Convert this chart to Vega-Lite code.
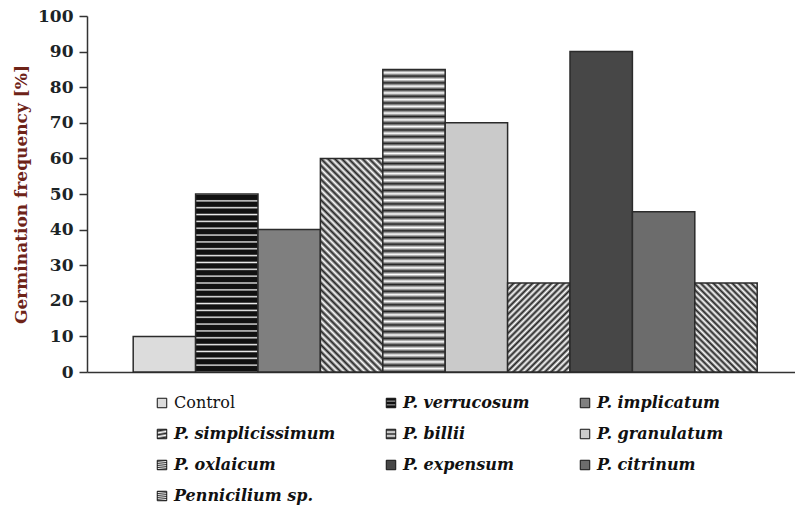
{
  "$schema": "https://vega.github.io/schema/vega-lite/v6.json",
  "width": 708,
  "height": 356,
  "autosize": {"type": "none"},
  "padding": {"left": 87, "top": 16, "right": 0, "bottom": 134},
  "background": "white",
  "config": {"view": {"stroke": null}, "font": "DejaVu Serif"},
  "data": {
    "values": [
      {"fungus": "Control", "frequency": 10},
      {"fungus": "P. verrucosum", "frequency": 50},
      {"fungus": "P. implicatum", "frequency": 40},
      {"fungus": "P. simplicissimum", "frequency": 60},
      {"fungus": "P. billii", "frequency": 85},
      {"fungus": "P. granulatum", "frequency": 70},
      {"fungus": "P. oxlaicum", "frequency": 25},
      {"fungus": "P. expensum", "frequency": 90},
      {"fungus": "P. citrinum", "frequency": 45},
      {"fungus": "Pennicilium sp.", "frequency": 25}
    ]
  },
  "mark": {"type": "bar", "stroke": "#2b2b2b", "strokeWidth": 1.5},
  "encoding": {
    "x": {
      "field": "fungus",
      "type": "nominal",
      "sort": ["Control", "P. verrucosum", "P. implicatum", "P. simplicissimum", "P. billii", "P. granulatum", "P. oxlaicum", "P. expensum", "P. citrinum", "Pennicilium sp."],
      "scale": {"paddingInner": 0, "paddingOuter": 0.673, "align": 0.55},
      "axis": {"labels": false, "ticks": false, "title": null, "domainColor": "#333333", "domainWidth": 1.5}
    },
    "y": {
      "field": "frequency",
      "type": "quantitative",
      "scale": {"domain": [0, 100], "nice": false},
      "axis": {
        "values": [0, 10, 20, 30, 40, 50, 60, 70, 80, 90, 100],
        "title": "Germination frequency [%]",
        "titleFont": "DejaVu Serif",
        "titleFontSize": 17,
        "titleFontWeight": "bold",
        "titleColor": "#6e2318",
        "titlePadding": 7,
        "labelFont": "DejaVu Serif",
        "labelFontSize": 17,
        "labelFontWeight": "bold",
        "labelColor": "#1c2426",
        "labelPadding": 6,
        "tickSize": 8,
        "tickColor": "#333333",
        "tickWidth": 1.5,
        "domainColor": "#333333",
        "domainWidth": 1.5,
        "grid": false
      }
    },
    "fill": {
      "field": "fungus",
      "type": "nominal",
      "scale": {
        "domain": ["Control", "P. verrucosum", "P. implicatum", "P. simplicissimum", "P. billii", "P. granulatum", "P. oxlaicum", "P. expensum", "P. citrinum", "Pennicilium sp."],
        "range": [
          "#dcdcdc",
          {"expr": "{gradient:'linear',x1:0,y1:0,x2:0,y2:1,stops:[{offset:0,color:'#eee'},{offset:1/130,color:'#111'},{offset:4/130,color:'#111'},{offset:5/130,color:'#eee'},{offset:6/130,color:'#111'},{offset:9/130,color:'#111'},{offset:10/130,color:'#eee'},{offset:11/130,color:'#111'},{offset:14/130,color:'#111'},{offset:15/130,color:'#eee'},{offset:16/130,color:'#111'},{offset:19/130,color:'#111'},{offset:20/130,color:'#eee'},{offset:21/130,color:'#111'},{offset:24/130,color:'#111'},{offset:25/130,color:'#eee'},{offset:26/130,color:'#111'},{offset:29/130,color:'#111'},{offset:30/130,color:'#eee'},{offset:31/130,color:'#111'},{offset:34/130,color:'#111'},{offset:35/130,color:'#eee'},{offset:36/130,color:'#111'},{offset:39/130,color:'#111'},{offset:40/130,color:'#eee'},{offset:41/130,color:'#111'},{offset:44/130,color:'#111'},{offset:45/130,color:'#eee'},{offset:46/130,color:'#111'},{offset:49/130,color:'#111'},{offset:50/130,color:'#eee'},{offset:51/130,color:'#111'},{offset:54/130,color:'#111'},{offset:55/130,color:'#eee'},{offset:56/130,color:'#111'},{offset:59/130,color:'#111'},{offset:60/130,color:'#eee'},{offset:61/130,color:'#111'},{offset:64/130,color:'#111'},{offset:65/130,color:'#eee'},{offset:66/130,color:'#111'},{offset:69/130,color:'#111'},{offset:70/130,color:'#eee'},{offset:71/130,color:'#111'},{offset:74/130,color:'#111'},{offset:75/130,color:'#eee'},{offset:76/130,color:'#111'},{offset:79/130,color:'#111'},{offset:80/130,color:'#eee'},{offset:81/130,color:'#111'},{offset:84/130,color:'#111'},{offset:85/130,color:'#eee'},{offset:86/130,color:'#111'},{offset:89/130,color:'#111'},{offset:90/130,color:'#eee'},{offset:91/130,color:'#111'},{offset:94/130,color:'#111'},{offset:95/130,color:'#eee'},{offset:96/130,color:'#111'},{offset:99/130,color:'#111'},{offset:100/130,color:'#eee'},{offset:101/130,color:'#111'},{offset:104/130,color:'#111'},{offset:105/130,color:'#eee'},{offset:106/130,color:'#111'},{offset:109/130,color:'#111'},{offset:110/130,color:'#eee'},{offset:111/130,color:'#111'},{offset:114/130,color:'#111'},{offset:115/130,color:'#eee'},{offset:116/130,color:'#111'},{offset:119/130,color:'#111'},{offset:120/130,color:'#eee'},{offset:121/130,color:'#111'},{offset:124/130,color:'#111'},{offset:125/130,color:'#eee'},{offset:126/130,color:'#111'},{offset:129/130,color:'#111'},{offset:1,color:'#eee'}]}"},
          "#7f7f7f",
          {"expr": "{gradient:'linear',x1:0,y1:1,x2:0.348,y2:-0.19,stops:[{offset:0,color:'#222'},{offset:1/80,color:'#fff'},{offset:2/80,color:'#222'},{offset:3/80,color:'#fff'},{offset:4/80,color:'#222'},{offset:5/80,color:'#fff'},{offset:6/80,color:'#222'},{offset:7/80,color:'#fff'},{offset:8/80,color:'#222'},{offset:9/80,color:'#fff'},{offset:10/80,color:'#222'},{offset:11/80,color:'#fff'},{offset:12/80,color:'#222'},{offset:13/80,color:'#fff'},{offset:14/80,color:'#222'},{offset:15/80,color:'#fff'},{offset:16/80,color:'#222'},{offset:17/80,color:'#fff'},{offset:18/80,color:'#222'},{offset:19/80,color:'#fff'},{offset:20/80,color:'#222'},{offset:21/80,color:'#fff'},{offset:22/80,color:'#222'},{offset:23/80,color:'#fff'},{offset:24/80,color:'#222'},{offset:25/80,color:'#fff'},{offset:26/80,color:'#222'},{offset:27/80,color:'#fff'},{offset:28/80,color:'#222'},{offset:29/80,color:'#fff'},{offset:30/80,color:'#222'},{offset:31/80,color:'#fff'},{offset:32/80,color:'#222'},{offset:33/80,color:'#fff'},{offset:34/80,color:'#222'},{offset:35/80,color:'#fff'},{offset:36/80,color:'#222'},{offset:37/80,color:'#fff'},{offset:38/80,color:'#222'},{offset:39/80,color:'#fff'},{offset:40/80,color:'#222'},{offset:41/80,color:'#fff'},{offset:42/80,color:'#222'},{offset:43/80,color:'#fff'},{offset:44/80,color:'#222'},{offset:45/80,color:'#fff'},{offset:46/80,color:'#222'},{offset:47/80,color:'#fff'},{offset:48/80,color:'#222'},{offset:49/80,color:'#fff'},{offset:50/80,color:'#222'},{offset:51/80,color:'#fff'},{offset:52/80,color:'#222'},{offset:53/80,color:'#fff'},{offset:54/80,color:'#222'},{offset:55/80,color:'#fff'},{offset:56/80,color:'#222'},{offset:57/80,color:'#fff'},{offset:58/80,color:'#222'},{offset:59/80,color:'#fff'},{offset:60/80,color:'#222'},{offset:61/80,color:'#fff'},{offset:62/80,color:'#222'},{offset:63/80,color:'#fff'},{offset:64/80,color:'#222'},{offset:65/80,color:'#fff'},{offset:66/80,color:'#222'},{offset:67/80,color:'#fff'},{offset:68/80,color:'#222'},{offset:69/80,color:'#fff'},{offset:70/80,color:'#222'},{offset:71/80,color:'#fff'},{offset:72/80,color:'#222'},{offset:73/80,color:'#fff'},{offset:74/80,color:'#222'},{offset:75/80,color:'#fff'},{offset:76/80,color:'#222'},{offset:77/80,color:'#fff'},{offset:78/80,color:'#222'},{offset:79/80,color:'#fff'},{offset:1,color:'#222'}]}"},
          {"expr": "{gradient:'linear',x1:0,y1:0,x2:0,y2:1,stops:[{offset:0,color:'#222'},{offset:1/90,color:'#fff'},{offset:2/90,color:'#222'},{offset:3/90,color:'#fff'},{offset:4/90,color:'#222'},{offset:5/90,color:'#fff'},{offset:6/90,color:'#222'},{offset:7/90,color:'#fff'},{offset:8/90,color:'#222'},{offset:9/90,color:'#fff'},{offset:10/90,color:'#222'},{offset:11/90,color:'#fff'},{offset:12/90,color:'#222'},{offset:13/90,color:'#fff'},{offset:14/90,color:'#222'},{offset:15/90,color:'#fff'},{offset:16/90,color:'#222'},{offset:17/90,color:'#fff'},{offset:18/90,color:'#222'},{offset:19/90,color:'#fff'},{offset:20/90,color:'#222'},{offset:21/90,color:'#fff'},{offset:22/90,color:'#222'},{offset:23/90,color:'#fff'},{offset:24/90,color:'#222'},{offset:25/90,color:'#fff'},{offset:26/90,color:'#222'},{offset:27/90,color:'#fff'},{offset:28/90,color:'#222'},{offset:29/90,color:'#fff'},{offset:30/90,color:'#222'},{offset:31/90,color:'#fff'},{offset:32/90,color:'#222'},{offset:33/90,color:'#fff'},{offset:34/90,color:'#222'},{offset:35/90,color:'#fff'},{offset:36/90,color:'#222'},{offset:37/90,color:'#fff'},{offset:38/90,color:'#222'},{offset:39/90,color:'#fff'},{offset:40/90,color:'#222'},{offset:41/90,color:'#fff'},{offset:42/90,color:'#222'},{offset:43/90,color:'#fff'},{offset:44/90,color:'#222'},{offset:45/90,color:'#fff'},{offset:46/90,color:'#222'},{offset:47/90,color:'#fff'},{offset:48/90,color:'#222'},{offset:49/90,color:'#fff'},{offset:50/90,color:'#222'},{offset:51/90,color:'#fff'},{offset:52/90,color:'#222'},{offset:53/90,color:'#fff'},{offset:54/90,color:'#222'},{offset:55/90,color:'#fff'},{offset:56/90,color:'#222'},{offset:57/90,color:'#fff'},{offset:58/90,color:'#222'},{offset:59/90,color:'#fff'},{offset:60/90,color:'#222'},{offset:61/90,color:'#fff'},{offset:62/90,color:'#222'},{offset:63/90,color:'#fff'},{offset:64/90,color:'#222'},{offset:65/90,color:'#fff'},{offset:66/90,color:'#222'},{offset:67/90,color:'#fff'},{offset:68/90,color:'#222'},{offset:69/90,color:'#fff'},{offset:70/90,color:'#222'},{offset:71/90,color:'#fff'},{offset:72/90,color:'#222'},{offset:73/90,color:'#fff'},{offset:74/90,color:'#222'},{offset:75/90,color:'#fff'},{offset:76/90,color:'#222'},{offset:77/90,color:'#fff'},{offset:78/90,color:'#222'},{offset:79/90,color:'#fff'},{offset:80/90,color:'#222'},{offset:81/90,color:'#fff'},{offset:82/90,color:'#222'},{offset:83/90,color:'#fff'},{offset:84/90,color:'#222'},{offset:85/90,color:'#fff'},{offset:86/90,color:'#222'},{offset:87/90,color:'#fff'},{offset:88/90,color:'#222'},{offset:89/90,color:'#fff'},{offset:1,color:'#222'}]}"},
          "#cacaca",
          {"expr": "{gradient:'linear',x1:0,y1:0,x2:0.8,y2:1.141,stops:[{offset:0,color:'#222'},{offset:1/48,color:'#fff'},{offset:2/48,color:'#222'},{offset:3/48,color:'#fff'},{offset:4/48,color:'#222'},{offset:5/48,color:'#fff'},{offset:6/48,color:'#222'},{offset:7/48,color:'#fff'},{offset:8/48,color:'#222'},{offset:9/48,color:'#fff'},{offset:10/48,color:'#222'},{offset:11/48,color:'#fff'},{offset:12/48,color:'#222'},{offset:13/48,color:'#fff'},{offset:14/48,color:'#222'},{offset:15/48,color:'#fff'},{offset:16/48,color:'#222'},{offset:17/48,color:'#fff'},{offset:18/48,color:'#222'},{offset:19/48,color:'#fff'},{offset:20/48,color:'#222'},{offset:21/48,color:'#fff'},{offset:22/48,color:'#222'},{offset:23/48,color:'#fff'},{offset:24/48,color:'#222'},{offset:25/48,color:'#fff'},{offset:26/48,color:'#222'},{offset:27/48,color:'#fff'},{offset:28/48,color:'#222'},{offset:29/48,color:'#fff'},{offset:30/48,color:'#222'},{offset:31/48,color:'#fff'},{offset:32/48,color:'#222'},{offset:33/48,color:'#fff'},{offset:34/48,color:'#222'},{offset:35/48,color:'#fff'},{offset:36/48,color:'#222'},{offset:37/48,color:'#fff'},{offset:38/48,color:'#222'},{offset:39/48,color:'#fff'},{offset:40/48,color:'#222'},{offset:41/48,color:'#fff'},{offset:42/48,color:'#222'},{offset:43/48,color:'#fff'},{offset:44/48,color:'#222'},{offset:45/48,color:'#fff'},{offset:46/48,color:'#222'},{offset:47/48,color:'#fff'},{offset:1,color:'#222'}]}"},
          "#474747",
          "#6c6c6c",
          {"expr": "{gradient:'linear',x1:0,y1:1,x2:0.8,y2:-0.141,stops:[{offset:0,color:'#222'},{offset:1/48,color:'#fff'},{offset:2/48,color:'#222'},{offset:3/48,color:'#fff'},{offset:4/48,color:'#222'},{offset:5/48,color:'#fff'},{offset:6/48,color:'#222'},{offset:7/48,color:'#fff'},{offset:8/48,color:'#222'},{offset:9/48,color:'#fff'},{offset:10/48,color:'#222'},{offset:11/48,color:'#fff'},{offset:12/48,color:'#222'},{offset:13/48,color:'#fff'},{offset:14/48,color:'#222'},{offset:15/48,color:'#fff'},{offset:16/48,color:'#222'},{offset:17/48,color:'#fff'},{offset:18/48,color:'#222'},{offset:19/48,color:'#fff'},{offset:20/48,color:'#222'},{offset:21/48,color:'#fff'},{offset:22/48,color:'#222'},{offset:23/48,color:'#fff'},{offset:24/48,color:'#222'},{offset:25/48,color:'#fff'},{offset:26/48,color:'#222'},{offset:27/48,color:'#fff'},{offset:28/48,color:'#222'},{offset:29/48,color:'#fff'},{offset:30/48,color:'#222'},{offset:31/48,color:'#fff'},{offset:32/48,color:'#222'},{offset:33/48,color:'#fff'},{offset:34/48,color:'#222'},{offset:35/48,color:'#fff'},{offset:36/48,color:'#222'},{offset:37/48,color:'#fff'},{offset:38/48,color:'#222'},{offset:39/48,color:'#fff'},{offset:40/48,color:'#222'},{offset:41/48,color:'#fff'},{offset:42/48,color:'#222'},{offset:43/48,color:'#fff'},{offset:44/48,color:'#222'},{offset:45/48,color:'#fff'},{offset:46/48,color:'#222'},{offset:47/48,color:'#fff'},{offset:1,color:'#222'}]}"}
        ]
      },
      "legend": {
        "title": null,
        "orient": "none",
        "legendX": 67,
        "legendY": 379,
        "columns": 3,
        "direction": "horizontal",
        "columnPadding": 47,
        "rowPadding": 15,
        "padding": 0,
        "symbolType": "square",
        "symbolSize": 90,
        "symbolStrokeColor": "#111111",
        "symbolStrokeWidth": 1,
        "labelFont": "DejaVu Serif",
        "labelFontSize": 16,
        "labelFontWeight": "bold",
        "labelColor": "#111111",
        "labelOffset": 4,
        "labelLimit": 300,
        "encode": {
          "labels": {
            "update": {
              "fontStyle": {"signal": "datum.label == 'Control' ? 'normal' : 'italic'"},
              "fontWeight": {"signal": "datum.label == 'Control' ? 'normal' : 'bold'"}
            }
          }
        }
      }
    }
  }
}
